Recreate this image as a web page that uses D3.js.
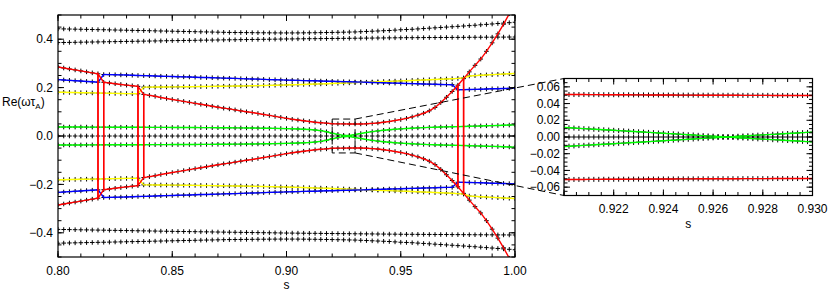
<!DOCTYPE html>
<html><head><meta charset="utf-8">
<script src="https://cdn.jsdelivr.net/npm/d3@7"></script>
<style>body{margin:0;background:#fff}svg{display:block}text{font-family:"Liberation Sans",Arial,sans-serif;fill:#000}</style>
</head><body><svg id="c" width="830" height="291"></svg>
<script>
// ---------- data ----------
const sMain = [.8,.8025,.805,.8075,.81,.8125,.815,.8175,.82,.8225,
.825,.8275,.83,.8325,.835,.8375,.84,.8425,.845,.8475,
.85,.8525,.855,.8575,.86,.8625,.865,.8675,.87,.8725,
.875,.8775,.88,.8825,.885,.8875,.89,.8925,.895,.8975,
.9,.9025,.905,.9075,.91,.9125,.915,.9175,.92,.9225,
.925,.9275,.93,.9325,.935,.9375,.94,.9425,.945,.9475,
.95,.9525,.955,.9575,.96,.9625,.965,.9675,.97,.9725,
.975,.9775,.98,.9825,.985,.9875,.99,.9925,.995,.9975,1];
const T1 = [.443,.4425,.442,.4415,.441,.4405,.44,.4395,.439,.4385,
.438,.4375,.437,.4365,.436,.4355,.435,.4345,.434,.4335,
.433,.4325,.432,.4315,.431,.4305,.43,.4295,.429,.4285,
.428,.4277,.4275,.4272,.427,.4267,.4265,.4263,.4261,.426,
.426,.426,.4261,.4263,.4265,.4268,.4272,.4276,.428,.4285,
.429,.4295,.43,.431,.432,.433,.434,.435,.436,.4375,
.439,.44,.441,.4425,.444,.4455,.447,.4485,.45,.4515,
.453,.4545,.456,.4577,.4595,.4612,.463,.4647,.4665,.4682,.47];
const T2 = [.386,.3864,.3868,.3872,.3876,.388,.3884,.3888,.3892,.3896,
.39,.3904,.3908,.3912,.3916,.392,.3924,.3928,.3932,.3936,
.394,.3944,.3947,.3951,.3954,.3958,.3961,.3965,.3968,.3972,
.3975,.3978,.3982,.3985,.3989,.3992,.3996,.3999,.4002,.4006,
.401,.4012,.4015,.4017,.402,.4022,.4025,.4027,.403,.4032,
.4035,.4037,.404,.4042,.4045,.4047,.405,.4052,.4055,.4057,
.406,.4062,.4063,.4065,.4066,.4068,.4069,.4071,.4072,.4074,
.4075,.4077,.4078,.408,.4081,.4083,.4084,.4086,.4087,.4089,.409];
const U1 = [.285,.281,.277,.273,.269,.265,.261,.257,.254,.2535,
.253,.2525,.252,.251,.25,.2495,.249,.248,.247,.2465,
.246,.245,.2445,.244,.243,.242,.2415,.241,.24,.239,
.2385,.238,.237,.236,.2355,.235,.234,.233,.2325,.232,
.231,.2305,.23,.229,.2285,.228,.227,.2265,.226,.225,
.2245,.224,.223,.2225,.2223,.2232,.2241,.225,.2259,.2268,
.2277,.2286,.2296,.2306,.2316,.2326,.2336,.2346,.2357,.2368,
.238,.24,.265,.292,.318,.35,.385,.422,.462,.505,.55];
const U2 = [.233,.2315,.23,.2285,.227,.2255,.224,.2225,.222,.219,
.216,.213,.21,.2075,.205,.202,.202,.2022,.2025,.2027,
.203,.2032,.2035,.2037,.204,.2043,.2046,.205,.2053,.2056,
.206,.2064,.2068,.2072,.2077,.2082,.2087,.2092,.2098,.2104,
.211,.2117,.2124,.2131,.2138,.2146,.2154,.2162,.217,.2178,
.2187,.2196,.2205,.2214,.222,.221,.2205,.22,.219,.2185,
.218,.217,.2165,.216,.215,.2145,.214,.213,.2125,.212,
.21,.237,.248,.2495,.251,.2523,.2536,.2548,.256,.2572,.2585];
const U3 = [.181,.1805,.18,.1795,.179,.1785,.178,.1775,.177,.1765,
.176,.1757,.1753,.175,.1745,.172,.168,.164,.159,.155,
.151,.147,.143,.139,.135,.131,.127,.123,.119,.115,
.112,.108,.104,.1,.097,.093,.089,.085,.081,.077,
.073,.069,.066,.063,.06,.057,.055,.053,.0508,.0503,
.05,.0498,.0497,.0498,.0505,.052,.054,.057,.06,.064,
.068,.073,.079,.086,.094,.104,.118,.138,.16,.184,
.191,.1915,.192,.1925,.193,.194,.195,.1955,.196,.197,.198];
const G = [.037,.037,.037,.037,.037,.0368,.0367,.0366,.0365,.0364,
.0363,.0362,.0361,.036,.036,.0359,.0358,.0357,.0356,.0355,
.0354,.0353,.0352,.035,.0349,.0347,.0346,.0344,.0342,.034,
.0338,.0336,.0334,.0332,.033,.0327,.0323,.0319,.0314,.031,
.0305,.0298,.029,.028,.0268,.025,.0222,.0175,.0113,.0068,
.0025,.0019,.006,.0103,.0145,.018,.021,.0235,.0258,.0278,
.0295,.031,.0323,.0335,.0345,.0355,.0363,.037,.0377,.0383,
.0389,.0395,.0405,.041,.0416,.0422,.0428,.0435,.0443,.0452,.046];
const Z = [0,0,0,0,0,0,0,0,0,0, 0,0,0,0,0,0,0,0,0,0, 0,0,0,0,0,0,0,0,0,0, 0,0,0,0,0,0,0,0,0,0,
0,0,0,0,0,0,0,0,0,0, 0,0,0,0,0,0,0,0,0,0, 0,0,0,0,0,0,0,0,0,0, 0,0,0,0,0,0,0,0,0,0, 0];
const B1 = [-.443,-.4425,-.442,-.4415,-.441,-.4405,-.44,-.4395,-.439,-.4385,
-.438,-.4375,-.437,-.4365,-.436,-.4355,-.435,-.4345,-.434,-.4335,
-.433,-.4325,-.432,-.4315,-.431,-.4305,-.43,-.4295,-.429,-.4285,
-.428,-.4277,-.4275,-.4272,-.427,-.4267,-.4265,-.4263,-.4261,-.426,
-.426,-.426,-.4261,-.4263,-.4265,-.4268,-.4272,-.4276,-.428,-.4285,
-.429,-.4295,-.43,-.431,-.432,-.433,-.434,-.435,-.436,-.4375,
-.439,-.44,-.441,-.4425,-.444,-.4455,-.447,-.4485,-.45,-.4515,
-.453,-.4545,-.456,-.4577,-.4595,-.4612,-.463,-.4647,-.4665,-.4682,-.47];
const B2 = [-.386,-.3864,-.3868,-.3872,-.3876,-.388,-.3884,-.3888,-.3892,-.3896,
-.39,-.3904,-.3908,-.3912,-.3916,-.392,-.3924,-.3928,-.3932,-.3936,
-.394,-.3944,-.3947,-.3951,-.3954,-.3958,-.3961,-.3965,-.3968,-.3972,
-.3975,-.3978,-.3982,-.3985,-.3989,-.3992,-.3996,-.3999,-.4002,-.4006,
-.401,-.4012,-.4015,-.4017,-.402,-.4022,-.4025,-.4027,-.403,-.4032,
-.4035,-.4037,-.404,-.4042,-.4045,-.4047,-.405,-.4052,-.4055,-.4057,
-.406,-.4062,-.4063,-.4065,-.4066,-.4068,-.4069,-.4071,-.4072,-.4074,
-.4075,-.4077,-.4078,-.408,-.4081,-.4083,-.4084,-.4086,-.4087,-.4089,-.409];
const L1 = [-.285,-.281,-.277,-.273,-.269,-.265,-.261,-.257,-.254,-.2535,
-.253,-.2525,-.252,-.251,-.25,-.2495,-.249,-.248,-.247,-.2465,
-.246,-.245,-.2445,-.244,-.243,-.242,-.2415,-.241,-.24,-.239,
-.2385,-.238,-.237,-.236,-.2355,-.235,-.234,-.233,-.2325,-.232,
-.231,-.2305,-.23,-.229,-.2285,-.228,-.227,-.2265,-.226,-.225,
-.2245,-.224,-.223,-.2225,-.2223,-.2232,-.2241,-.225,-.2259,-.2268,
-.2277,-.2286,-.2296,-.2306,-.2316,-.2326,-.2336,-.2346,-.2357,-.2368,
-.238,-.24,-.265,-.292,-.318,-.35,-.385,-.422,-.462,-.505,-.55];
const L2 = [-.233,-.2315,-.23,-.2285,-.227,-.2255,-.224,-.2225,-.222,-.219,
-.216,-.213,-.21,-.2075,-.205,-.202,-.202,-.2022,-.2025,-.2027,
-.203,-.2032,-.2035,-.2037,-.204,-.2043,-.2046,-.205,-.2053,-.2056,
-.206,-.2064,-.2068,-.2072,-.2077,-.2082,-.2087,-.2092,-.2098,-.2104,
-.211,-.2117,-.2124,-.2131,-.2138,-.2146,-.2154,-.2162,-.217,-.2178,
-.2187,-.2196,-.2205,-.2214,-.222,-.221,-.2205,-.22,-.219,-.2185,
-.218,-.217,-.2165,-.216,-.215,-.2145,-.214,-.213,-.2125,-.212,
-.21,-.237,-.248,-.2495,-.251,-.2523,-.2536,-.2548,-.256,-.2572,-.2585];
const L3 = [-.181,-.1805,-.18,-.1795,-.179,-.1785,-.178,-.1775,-.177,-.1765,
-.176,-.1757,-.1753,-.175,-.1745,-.172,-.168,-.164,-.159,-.155,
-.151,-.147,-.143,-.139,-.135,-.131,-.127,-.123,-.119,-.115,
-.112,-.108,-.104,-.1,-.097,-.093,-.089,-.085,-.081,-.077,
-.073,-.069,-.066,-.063,-.06,-.057,-.055,-.053,-.0508,-.0503,
-.05,-.0498,-.0497,-.0498,-.0505,-.052,-.054,-.057,-.06,-.064,
-.068,-.073,-.079,-.086,-.094,-.104,-.118,-.138,-.16,-.184,
-.191,-.1915,-.192,-.1925,-.193,-.194,-.195,-.1955,-.196,-.197,-.198];
const LG = [-.037,-.037,-.037,-.037,-.037,-.0368,-.0367,-.0366,-.0365,-.0364,
-.0363,-.0362,-.0361,-.036,-.036,-.0359,-.0358,-.0357,-.0356,-.0355,
-.0354,-.0353,-.0352,-.035,-.0349,-.0347,-.0346,-.0344,-.0342,-.034,
-.0338,-.0336,-.0334,-.0332,-.033,-.0327,-.0323,-.0319,-.0314,-.031,
-.0305,-.0298,-.029,-.028,-.0268,-.025,-.0222,-.0175,-.0113,-.0068,
-.0025,-.0019,-.006,-.0103,-.0145,-.018,-.021,-.0235,-.0258,-.0278,
-.0295,-.031,-.0323,-.0335,-.0345,-.0355,-.0363,-.037,-.0377,-.0383,
-.0389,-.0395,-.0405,-.041,-.0416,-.0422,-.0428,-.0435,-.0443,-.0452,-.046];

// zoomed scan around the green crossing
const sZoom = [.92,.9202,.9204,.9206,.9208,.921,.9212,.9214,.9216,.9218,
.922,.9222,.9224,.9226,.9228,.923,.9232,.9234,.9236,.9238,
.924,.9242,.9244,.9246,.9248,.925,.9252,.9254,.9256,.9258,
.926,.9262,.9264,.9266,.9268,.927,.9272,.9274,.9276,.9278,
.928,.9282,.9284,.9286,.9288,.929,.9292,.9294,.9296,.9298,.93];
const zRedUp = [.0509,.0509,.0508,.0508,.0508,.0507,.0507,.0507,.0506,.0506,
.0506,.0505,.0505,.0505,.0504,.0504,.0504,.0503,.0503,.0503,
.0502,.0502,.0502,.0501,.0501,.0501,.0501,.05,.05,.05,
.05,.0499,.0499,.0499,.0499,.0499,.0498,.0498,.0498,.0498,
.0498,.0498,.0497,.0497,.0497,.0497,.0497,.0497,.0497,.0497,.0497];
const zRedDn = [-.0509,-.0509,-.0508,-.0508,-.0508,-.0507,-.0507,-.0507,-.0506,-.0506,
-.0506,-.0505,-.0505,-.0505,-.0504,-.0504,-.0504,-.0503,-.0503,-.0503,
-.0502,-.0502,-.0502,-.0501,-.0501,-.0501,-.0501,-.05,-.05,-.05,
-.05,-.0499,-.0499,-.0499,-.0499,-.0499,-.0498,-.0498,-.0498,-.0498,
-.0498,-.0498,-.0497,-.0497,-.0497,-.0497,-.0497,-.0497,-.0497,-.0497,-.0497];
const zGreenUp = [.0113,.011,.0107,.0103,.01,.0097,.0093,.009,.0086,.0083,
.008,.0076,.0073,.0069,.0066,.0062,.0059,.0055,.0052,.0048,
.0045,.0041,.0038,.0034,.0031,.0027,.0024,.002,.0017,.0013,
.001,.0006,.0003,.0002,.0005,.0009,.0012,.0015,.0019,.0022,
.0025,.0029,.0032,.0035,.0038,.0042,.0045,.0048,.0052,.0055,.0058];
const zGreenDn = [-.0113,-.011,-.0107,-.0103,-.01,-.0097,-.0093,-.009,-.0086,-.0083,
-.008,-.0076,-.0073,-.0069,-.0066,-.0062,-.0059,-.0055,-.0052,-.0048,
-.0045,-.0041,-.0038,-.0034,-.0031,-.0027,-.0024,-.002,-.0017,-.0013,
-.001,-.0006,-.0003,-.0002,-.0005,-.0009,-.0012,-.0015,-.0019,-.0022,
-.0025,-.0029,-.0032,-.0035,-.0038,-.0042,-.0045,-.0048,-.0052,-.0055,-.0058];
const zZero = [0,0,0,0,0,0,0,0,0,0, 0,0,0,0,0,0,0,0,0,0, 0,0,0,0,0,0,0,0,0,0,
0,0,0,0,0,0,0,0,0,0, 0,0,0,0,0,0,0,0,0,0, 0];

// mode tracks: [branch, s from, s to]
const redTrack = [["U1",.8,.8175],["L1",.8175,.8175],["L2",.82,.82],["U2",.82,.835],["L2",.835,.835],["L3",.8375,.8375],
  ["U3",.8375,.9725],["U2",.975,.975],["L2",.975,.9775],["U2",.9775,.9775],["U1",.98,1]];
const blueTrack = [["U2",.8,.8175],["U1",.82,.9325],["U2",.935,.9725],["U3",.975,1]];
const yellowTrack = [["U3",.8,.835],["U2",.8375,.9325],["U1",.935,.9775],["U2",.98,1]];

const xTicksMain = [0.80,0.85,0.90,0.95,1.00];
const yTicksMain = [-0.4,-0.2,0.0,0.2,0.4];
const xTicksZoom = [0.922,0.924,0.926,0.928,0.930];
const yTicksZoom = [-0.06,-0.04,-0.02,0.00,0.02,0.04,0.06];

// ---------- drawing ----------
const svg = d3.select("#c");
const x = d3.scaleLinear().domain([0.8,1.0]).range([58,515]);
const y = d3.scaleLinear().domain([-0.5,0.5]).range([257,15]);
const xi = d3.scaleLinear().domain([0.92,0.93]).range([564,812.5]);
const yi = d3.scaleLinear().domain([-0.07,0.07]).range([195.5,78.5]);
const COL = {red:"#ff0000", blue:"#0000ff", yellow:"#ffff00", green:"#00ff00"};
const branches = {U1,U2,U3,L1,L2,L3};

const defs = svg.append("defs");
defs.append("clipPath").attr("id","cm").append("rect").attr("x",58).attr("y",15).attr("width",457).attr("height",242);
defs.append("clipPath").attr("id","ci").append("rect").attr("x",564).attr("y",78.5).attr("width",248.5).attr("height",117);

function markers(g, xs, ys, sx, sy, arm){
  g.append("path").attr("fill","none").attr("stroke","#000").attr("stroke-width",1)
   .attr("d", xs.map((s,i)=>{const px=sx(s), py=sy(ys[i]);
      return `M${px-arm},${py}h${2*arm}M${px},${py-arm}v${2*arm}`;}).join(""));
}
function track(spec){
  const pts=[];
  spec.forEach(([b,a,c])=>sMain.forEach((s,i)=>{ if(s>=a-1e-9 && s<=c+1e-9) pts.push([s,branches[b][i]]); }));
  return pts;
}
function flip(spec){ return spec.map(([b,a,c])=>[(b[0]==="U"?"L":"U")+b.slice(1),a,c]); }
const lineM = d3.line().x(d=>x(d[0])).y(d=>y(d[1]));
const lineI = d3.line().x(d=>xi(d[0])).y(d=>yi(d[1]));

// main panel
const gm = svg.append("g").attr("clip-path","url(#cm)");
[T1,T2,U1,U2,U3,G,Z,B1,B2,L1,L2,L3,LG].forEach(arr=>markers(gm,sMain,arr,x,y,2.3));
const lw = 1.4;
[G,LG].forEach(arr=>gm.append("path").attr("fill","none").attr("stroke",COL.green).attr("stroke-width",lw)
  .attr("d",lineM(sMain.map((s,i)=>[s,arr[i]]))));
[yellowTrack,flip(yellowTrack)].forEach(t=>gm.append("path").attr("fill","none").attr("stroke",COL.yellow).attr("stroke-width",lw).attr("d",lineM(track(t))));
[blueTrack,flip(blueTrack)].forEach(t=>gm.append("path").attr("fill","none").attr("stroke",COL.blue).attr("stroke-width",lw).attr("d",lineM(track(t))));
[redTrack,flip(redTrack)].forEach(t=>gm.append("path").attr("fill","none").attr("stroke",COL.red).attr("stroke-width",lw).attr("d",lineM(track(t))));

// frames & ticks
function frame(sx, sy, majX, minX, majY, minY, L, l){
  const [x0,x1]=sx.range(), [y0,y1]=sy.range();
  const g = svg.append("g").attr("stroke","#000").attr("stroke-width",1);
  g.append("rect").attr("x",x0).attr("y",y1).attr("width",x1-x0).attr("height",y0-y1).attr("fill","none").attr("stroke-width",1.2);
  const tk=(vals,len)=>{
    vals.forEach(v=>{const px=sx(v);
      g.append("line").attr("x1",px).attr("x2",px).attr("y1",y0).attr("y2",y0-len);
      g.append("line").attr("x1",px).attr("x2",px).attr("y1",y1).attr("y2",y1+len);});
  };
  const tky=(vals,len)=>{
    vals.forEach(v=>{const py=sy(v);
      g.append("line").attr("x1",x0).attr("x2",x0+len).attr("y1",py).attr("y2",py);
      g.append("line").attr("x1",x1).attr("x2",x1-len).attr("y1",py).attr("y2",py);});
  };
  tk(minX,l); tk(majX,L); tky(minY,l); tky(majY,L);
}
frame(x,y,xTicksMain,x.ticks(20),yTicksMain,y.ticks(20),6,3.5);

svg.append("g").selectAll("text").data(xTicksMain).join("text")
  .attr("x",d=>x(d)).attr("y",275).attr("text-anchor","middle").attr("font-size",12).text(d3.format(".2f"));
svg.append("g").selectAll("text").data(yTicksMain).join("text")
  .attr("x",53).attr("y",d=>y(d)).attr("dy","0.35em").attr("text-anchor","end").attr("font-size",12).text(d3.format(".1f"));
svg.append("text").attr("x",x(0.9)).attr("y",289).attr("text-anchor","middle").attr("font-size",12).text("s");
const yl = svg.append("text").attr("x",2).attr("y",106).attr("font-size",12);
yl.append("tspan").text("Re(");
yl.append("tspan").text("ωτ");
yl.append("tspan").attr("font-size",8).attr("dy",3).text("A");
yl.append("tspan").attr("dy",-3).text(")");

// inset
const gi = svg.append("g").attr("clip-path","url(#ci)");
[zRedUp,zRedDn,zGreenUp,zGreenDn,zZero].forEach(arr=>markers(gi,sZoom,arr,xi,yi,2.5));
gi.selectAll(".l").data([zRedUp,zRedDn]).join("path").attr("fill","none").attr("stroke",COL.red).attr("stroke-width",lw)
  .attr("d",arr=>lineI(sZoom.map((s,i)=>[s,arr[i]])));
gi.selectAll(".g").data([zGreenUp,zGreenDn]).join("path").attr("fill","none").attr("stroke",COL.green).attr("stroke-width",lw)
  .attr("d",arr=>lineI(sZoom.map((s,i)=>[s,arr[i]])));
frame(xi,yi,[0.920].concat(xTicksZoom),xi.ticks(20),yTicksZoom,yi.ticks(28),6,3.5);
svg.append("g").selectAll("text").data(xTicksZoom).join("text")
  .attr("x",d=>xi(d)).attr("y",213).attr("text-anchor","middle").attr("font-size",12).text(d3.format(".3f"));
svg.append("g").selectAll("text").data(yTicksZoom).join("text")
  .attr("x",560).attr("y",d=>yi(d)).attr("dy","0.35em").attr("text-anchor","end").attr("font-size",12).text(d3.format(".2f"));
svg.append("text").attr("x",xi(0.925)).attr("y",228).attr("text-anchor","middle").attr("font-size",12).text("s");

// zoom box and connectors
const gd = svg.append("g").attr("fill","none").attr("stroke","#000").attr("stroke-width",1).attr("stroke-dasharray","7,4");
gd.append("rect").attr("x",x(0.92)).attr("y",y(0.07)).attr("width",x(0.93)-x(0.92)).attr("height",y(-0.07)-y(0.07));
gd.append("line").attr("x1",x(0.93)).attr("y1",y(0.07)).attr("x2",xi(0.92)).attr("y2",yi(0.07));
gd.append("line").attr("x1",x(0.93)).attr("y1",y(-0.07)).attr("x2",xi(0.92)).attr("y2",yi(-0.07));
</script></body></html>
